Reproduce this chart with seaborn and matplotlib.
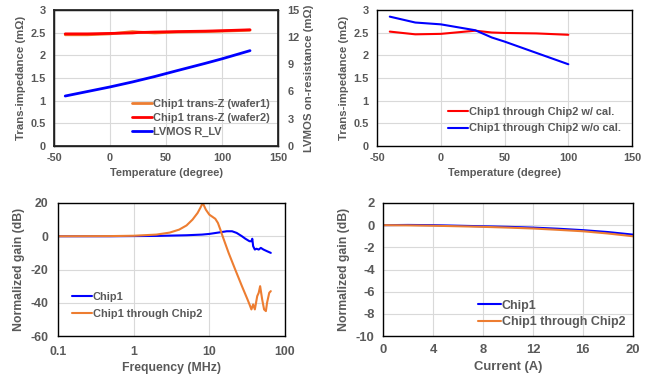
import numpy as np
import pandas as pd
import matplotlib
matplotlib.use('Agg')
import matplotlib.pyplot as plt
import seaborn as sns

# panel a: trans-impedance vs temperature (chip1) + LVMOS on-resistance
temp_a = [-40, -20, 0, 20, 25, 40, 60, 85, 100, 125]
tz_wafer1 = [2.45, 2.45, 2.47, 2.52, 2.51, 2.49, 2.51, 2.52, 2.53, 2.55]
tz_wafer2 = [2.47, 2.47, 2.48, 2.49, 2.50, 2.51, 2.52, 2.53, 2.54, 2.56]
r_lv = [5.5, 6.0, 6.5, 7.05, 7.2, 7.65, 8.3, 9.1, 9.6, 10.5]

# panel b: chip1 through chip2
temp_b = [-40, -20, 0, 27, 40, 50, 75, 100]
tz_cal = [2.52, 2.46, 2.47, 2.54, 2.50, 2.49, 2.48, 2.45]
tz_nocal = [2.85, 2.72, 2.68, 2.55, 2.39, 2.30, 2.05, 1.80]

# panel c: frequency response
freq_chip1 = [0.1, 0.5, 1, 2, 5, 8, 10, 14, 17, 20, 23, 27, 30, 34, 36, 37, 38, 40, 42, 45, 48, 52, 58, 65]
gain_chip1 = [0, 0, 0.1, 0.2, 0.6, 1.0, 1.4, 2.4, 3.0, 3.0, 2.0, 0, -1.5, -3, -3, -1.5, -6, -8, -7.5, -8, -7, -8, -9, -10]
freq_chip12 = [0.1, 0.5, 1, 2, 3, 4, 5, 6, 7, 7.6, 8.2, 9, 10, 12, 13, 14, 15, 18, 22, 27, 32, 34, 36, 38, 40, 43, 45, 47, 50, 53, 56, 58, 62, 65]
gain_chip12 = [0, 0.1, 0.3, 1.0, 2.2, 4, 6.5, 10, 14, 17, 20, 16, 13, 10.5, 8, 4, 0, -10, -20, -30, -38, -41, -44, -41, -44, -36, -34, -30, -38, -44, -45, -40, -34, -33]

# panel d: gain vs current
current = [0, 2, 4, 6, 8, 10, 12, 14, 16, 18, 20]
gain_i_chip1 = [0, 0.02, 0.0, -0.05, -0.1, -0.15, -0.22, -0.32, -0.45, -0.62, -0.85]
gain_i_chip12 = [0, -0.02, -0.05, -0.1, -0.15, -0.22, -0.3, -0.42, -0.55, -0.75, -1.0]

ORANGE = '#ED7D31'
RED = '#FF0000'
BLUE = '#0000FF'
GRAY = '#595959'

sns.set_theme(style='white')
plt.rcParams['font.family'] = ['Liberation Sans', 'DejaVu Sans']
plt.rcParams['font.weight'] = 'bold'
plt.rcParams['axes.labelweight'] = 'bold'
plt.rcParams['axes.unicode_minus'] = False
plt.rcParams['xtick.color'] = GRAY
plt.rcParams['ytick.color'] = GRAY
plt.rcParams['axes.labelcolor'] = GRAY

fig = plt.figure(figsize=(6.54, 3.78), dpi=100)


def style(ax, fs, xpad=5, ypad=6):
    ax.grid(True, color='#D9D9D9', linewidth=0.8)
    ax.set_axisbelow(True)
    for s in ax.spines.values():
        s.set_color('black')
        s.set_linewidth(1.0)
    ax.tick_params(length=0, labelsize=fs)
    ax.tick_params(axis='x', pad=xpad)
    ax.tick_params(axis='y', pad=ypad)


def legend(ax, pos, fs, spacing, handles=None, labels=None):
    kw = dict(loc='lower left', bbox_to_anchor=pos, bbox_transform=fig.transFigure,
              frameon=False, fontsize=fs, handlelength=1.8, handletextpad=0.1,
              labelspacing=spacing, borderaxespad=0, borderpad=0)
    if handles is not None:
        leg = ax.legend(handles, labels, **kw)
    else:
        leg = ax.legend(**kw)
    for t in leg.get_texts():
        t.set_color(GRAY)
    return leg


# ---- panel a
fa = 7.9
ax1 = fig.add_axes([0.0826, 0.614, 0.3425, 0.360])
ax1r = ax1.twinx()
sns.lineplot(x=temp_a, y=tz_wafer1, ax=ax1, color=ORANGE, linewidth=2, label='Chip1 trans-Z (wafer1)')
sns.lineplot(x=temp_a, y=tz_wafer2, ax=ax1, color=RED, linewidth=2, label='Chip1 trans-Z (wafer2)')
sns.lineplot(x=temp_a, y=r_lv, ax=ax1r, color=BLUE, linewidth=2, label='LVMOS R_LV')
ax1.set_xlim(-50, 150)
ax1.set_ylim(0, 3)
ax1r.set_ylim(0, 15)
ax1.set_xticks([-50, 0, 50, 100, 150])
ax1.set_yticks(np.arange(0, 3.01, 0.5))
ax1.set_yticklabels(['0', '0.5', '1', '1.5', '2', '2.5', '3'])
ax1r.set_yticks([0, 3, 6, 9, 12, 15])
style(ax1, fa)
ax1r.tick_params(length=0, labelsize=fa, pad=7)
ax1r.grid(False)
ax1.set_xlabel('Temperature (degree)', fontsize=fa, labelpad=4)
ax1.set_ylabel('Trans-impedance (m\u03a9)', fontsize=8.2, labelpad=3)
ax1r.set_ylabel('LVMOS on-resistance (m\u03a9)', fontsize=8.2, labelpad=3)
h1, l1 = ax1.get_legend_handles_labels()
h2, l2 = ax1r.get_legend_handles_labels()
ax1r.get_legend().remove()
ax1.get_legend().remove()
legend(ax1r, (0.202, 0.637), 7.9, 0.38, h1 + h2, l1 + l2)

# ---- panel b
ax2 = fig.add_axes([0.5765, 0.614, 0.390, 0.360])
sns.lineplot(x=temp_b, y=tz_cal, ax=ax2, color=RED, linewidth=1.5, label='Chip1 through Chip2 w/ cal.')
sns.lineplot(x=temp_b, y=tz_nocal, ax=ax2, color=BLUE, linewidth=1.5, label='Chip1 through Chip2 w/o cal.')
ax2.set_xlim(-50, 150)
ax2.set_ylim(0, 3)
ax2.set_xticks([-50, 0, 50, 100, 150])
ax2.set_yticks(np.arange(0, 3.01, 0.5))
ax2.set_yticklabels(['0', '0.5', '1', '1.5', '2', '2.5', '3'])
style(ax2, fa)
ax2.set_xlabel('Temperature (degree)', fontsize=fa, labelpad=4)
ax2.set_ylabel('Trans-impedance (m\u03a9)', fontsize=8.2, labelpad=3)
legend(ax2, (0.685, 0.647), 7.9, 0.6)

# ---- panel c
fc = 8.8
ax3 = fig.add_axes([0.0887, 0.111, 0.347, 0.352])
sns.lineplot(x=freq_chip1, y=gain_chip1, ax=ax3, color=BLUE, linewidth=1.5, label='Chip1')
sns.lineplot(x=freq_chip12, y=gain_chip12, ax=ax3, color=ORANGE, linewidth=1.5, label='Chip1 through Chip2')
ax3.set_xscale('log')
ax3.set_xlim(0.1, 100)
ax3.set_ylim(-60, 20)
ax3.set_xticks([0.1, 1, 10, 100])
ax3.set_xticklabels(['0.1', '1', '10', '100'])
ax3.minorticks_off()
ax3.set_yticks([-60, -40, -20, 0, 20])
style(ax3, fc, xpad=7, ypad=7)
ax3.set_xlabel('Frequency (MHz)', fontsize=fc, labelpad=3)
ax3.set_ylabel('Normalized gain (dB)', fontsize=fc, labelpad=4)
legend(ax3, (0.110, 0.157), 7.9, 0.6)

# ---- panel d
fd = 9.4
ax4 = fig.add_axes([0.5856, 0.111, 0.382, 0.352])
sns.lineplot(x=current, y=gain_i_chip1, ax=ax4, color=BLUE, linewidth=1.5, label='Chip1')
sns.lineplot(x=current, y=gain_i_chip12, ax=ax4, color=ORANGE, linewidth=1.5, label='Chip1 through Chip2')
ax4.set_xlim(0, 20)
ax4.set_ylim(-10, 2)
ax4.set_xticks([0, 4, 8, 12, 16, 20])
ax4.set_yticks([-10, -8, -6, -4, -2, 0, 2])
style(ax4, fd, xpad=6, ypad=6)
ax4.set_xlabel('Current (A)', fontsize=fd, labelpad=3)
ax4.set_ylabel('Normalized gain (dB)', fontsize=fc, labelpad=4)
legend(ax4, (0.731, 0.132), 9.0, 0.35)

fig.savefig('out.png', dpi=100)
